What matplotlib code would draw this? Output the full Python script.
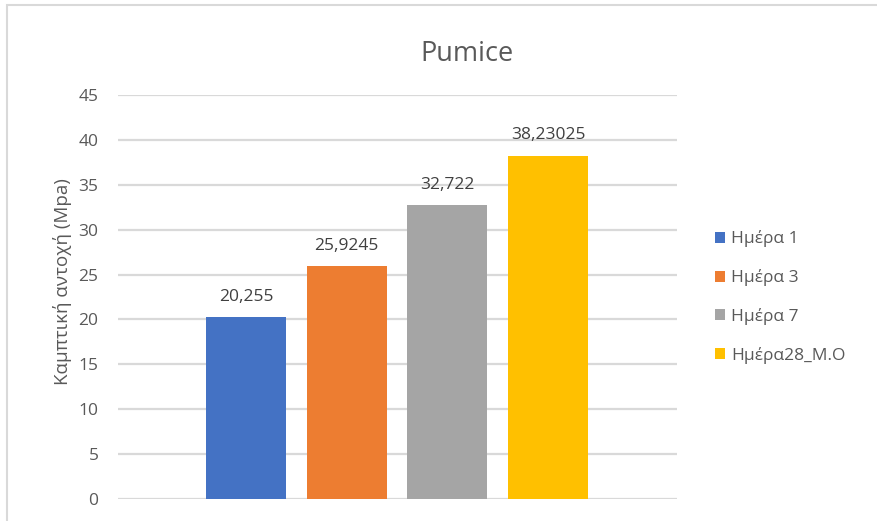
import numpy as np
import matplotlib.pyplot as plt
from matplotlib.patches import Rectangle

# flexural strength per curing day
series = ['Ημέρα 1', 'Ημέρα 3', 'Ημέρα 7', 'Ημέρα28_Μ.Ο']
values = [20.255, 25.9245, 32.722, 38.23025]
colors = ['#4472C4', '#ED7D31', '#A5A5A5', '#FFC000']
yticks = np.arange(0, 46, 5)

plt.rcParams.update({'font.family': ['Open Sans', 'DejaVu Sans'],
                     'text.color': '#595959',
                     'xtick.color': '#595959',
                     'ytick.color': '#595959'})

fig = plt.figure(figsize=(8.77, 5.21), dpi=100)
ax = fig.add_axes([0.1345, 0.0422, 0.6374, 0.7755])

# chart border
fig.patches.append(Rectangle((7/877, -0.1), 1.2, 0.1+1-5/521, transform=fig.transFigure,
                             fill=False, edgecolor='#D9D9D9', linewidth=1.5))

step = 1.26
pos = np.arange(len(values))*step
for i in range(len(values)):
    ax.bar(pos[i], values[i], width=1.0, color=colors[i], label=series[i], zorder=3)
    ax.annotate(str(values[i]).replace('.', ','), (pos[i], values[i]),
                xytext=(0, 9), textcoords='offset points', ha='center', va='bottom',
                fontsize=12.5, color='#404040')

ax.set_xlim(-1.6, 5.39)
ax.set_ylim(0, 45)
ax.set_yticks(yticks)
ax.set_xticks([])
ax.tick_params(axis='y', length=0, pad=14, labelsize=12.5)
ax.grid(axis='y', color='#D9D9D9', linewidth=1.6, zorder=0)
for s in ax.spines.values():
    s.set_visible(False)

ax.set_ylabel('Καμπτική αντοχή (Mpa)', fontsize=13.5, color='#595959')
ax.yaxis.set_label_coords(-0.082, 0.537)
fig.text(467/877, 1-54/521, 'Pumice', ha='center', va='center', fontsize=19.5, color='#595959')

ax.legend(loc='center left', bbox_to_anchor=(699/877, 1-297/521), bbox_transform=fig.transFigure,
          frameon=False, fontsize=12.5, handlelength=0.6, handleheight=0.6,
          handletextpad=0.35, labelspacing=1.25, labelcolor='#595959')

fig.savefig('out.png', dpi=100)
